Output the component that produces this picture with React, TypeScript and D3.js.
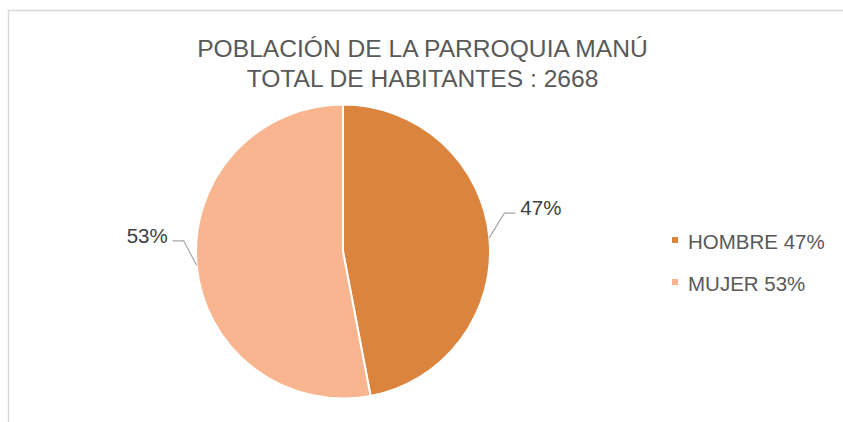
import React from 'react';
import * as d3 from 'd3';

// data
const categories = ['HOMBRE', 'MUJER'];
const shares = [47, 53];
const colors = ['#DB843E', '#F8B590'];
const titleLines = ['POBLACIÓN DE LA PARROQUIA MANÚ', 'TOTAL DE HABITANTES : 2668'];

const W = 843;
const H = 422;
const FONT = '"Liberation Sans", Arial, sans-serif';

const App: React.FC = () => {
  const cx = 343;
  const cy = 251.5;
  const radius = 147;

  const pie = d3.pie<number>().sort(null).value(d => d);
  const arcs = pie(shares);
  const arc = d3.arc<d3.PieArcDatum<number>>().innerRadius(0).outerRadius(radius);

  // leader line geometry (relative offsets of elbow and tail)
  const leader = (a: d3.PieArcDatum<number>) => {
    const mid = (a.startAngle + a.endAngle) / 2;
    const sx = Math.sin(mid) * radius;
    const sy = -Math.cos(mid) * radius;
    const right = sx > 0;
    const ex = sx + (right ? 15 : -13);
    const ey = sy - 24.5;
    const tx = ex + (right ? 11 : -11);
    return { sx, sy, ex, ey, tx, right };
  };

  return (
    <svg
      width={W}
      height={H}
      style={{ position: 'absolute', left: 0, top: 0, background: '#fff' }}
    >
      <rect x={8.5} y={10.5} width={W} height={H} fill="#fff" stroke="#d9d9d9" strokeWidth={1.5} />

      {/* 标题 */}
      {titleLines.map((t, i) => (
        <text
          key={t}
          x={422.5}
          y={57 + i * 30}
          textAnchor="middle"
          fontFamily={FONT}
          fontSize={24.6}
          fill="#595959"
        >
          {t}
        </text>
      ))}

      <g transform={`translate(${cx},${cy})`}>
        {arcs.map((a, i) => (
          <path key={categories[i]} d={arc(a) || ''} fill={colors[i]} stroke="#fff" strokeWidth={2} />
        ))}

        {arcs.map((a, i) => {
          const l = leader(a);
          return (
            <g key={'lbl' + categories[i]}>
              <polyline
                points={`${l.sx},${l.sy} ${l.ex},${l.ey} ${l.tx},${l.ey}`}
                fill="none"
                stroke="#a6a6a6"
                strokeWidth={1.2}
              />
              <text
                x={l.tx + (l.right ? 5 : -5)}
                y={l.ey + 2}
                textAnchor={l.right ? 'start' : 'end'}
                fontFamily={FONT}
                fontSize={20.5}
                fill="#404040"
              >
                {`${shares[i]}%`}
              </text>
            </g>
          );
        })}
      </g>

      {/* 图例 */}
      {categories.map((c, i) => (
        <g key={'leg' + c} transform={`translate(672,${237 + i * 42})`}>
          <rect width={6} height={6} fill={colors[i]} />
          <text x={16} y={12} fontFamily={FONT} fontSize={20.5} fill="#595959">
            {`${c} ${shares[i]}%`}
          </text>
        </g>
      ))}
    </svg>
  );
};

export default App;
